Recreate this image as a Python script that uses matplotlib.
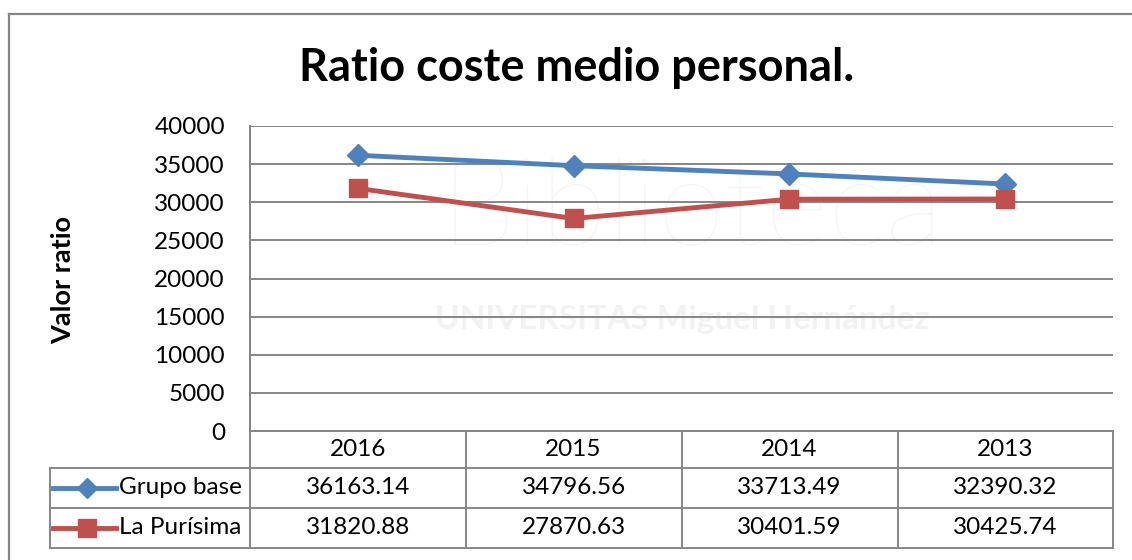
import matplotlib.pyplot as plt
from matplotlib.lines import Line2D
import matplotlib.transforms as mtransforms

plt.rcParams['font.family'] = ['Lato', 'DejaVu Sans']

years = ['2016', '2015', '2014', '2013']
grupo_base = [36163.14, 34796.56, 33713.49, 32390.32]
la_purisima = [31820.88, 27870.63, 30401.59, 30425.74]
series_names = ['Grupo base', 'La Purísima']
yticks = [0, 5000, 10000, 15000, 20000, 25000, 30000, 35000, 40000]

W, H = 1132, 560
blue = '#4F81BD'
red = '#C0504D'
grey = '#868686'


def fx(px):
    return px / W


def fy(py):
    return 1 - py / H


fig = plt.figure(figsize=(W / 100, H / 100), dpi=100)

# outer chart border (only top and left are visible in the crop)
fig.add_artist(Line2D([fx(9), fx(W)], [fy(14), fy(14)], color=grey, lw=1.6))
fig.add_artist(Line2D([fx(9), fx(9)], [fy(14), 0], color=grey, lw=1.6))

# faint watermark, behind the axes
fig.text(fx(692), fy(212), 'Biblioteca', fontsize=88, color='#f4f4f4',
         ha='center', va='center', zorder=-5, fontweight='light')
fig.text(fx(682), fy(320), 'UNIVERSITAS Miguel Hernández', fontsize=24,
         color='#f2f2f2', ha='center', va='center', zorder=-5, fontweight='bold')

ax = fig.add_axes([fx(250), fy(431), (1113 - 250) / W, (431 - 126) / H])
ax.patch.set_alpha(0)
ax.set_zorder(1)
x = list(range(len(years)))
ax.plot(x, grupo_base, color=blue, lw=3.5, marker='D', ms=11, zorder=3)
ax.plot(x, la_purisima, color=red, lw=3.5, marker='s', ms=13, zorder=3)
ax.set_xlim(-0.5, len(years) - 0.5)
ax.set_ylim(0, 40000)
ax.set_yticks(yticks)
ax.set_yticklabels([str(v) for v in yticks])
ax.set_xticks([])
ax.tick_params(axis='y', length=0, labelsize=17.5, pad=18)
ax.yaxis.grid(True, color=grey, lw=1.4)
ax.set_axisbelow(True)
for s in ['top', 'right', 'bottom']:
    ax.spines[s].set_visible(False)
ax.spines['left'].set_color(grey)
ax.spines['left'].set_linewidth(1.4)

fig.text(fx(63), fy(280), 'Valor ratio', fontsize=19.5, fontweight='bold',
         rotation=90, ha='center', va='center')
fig.text(fx(577), fy(68), 'Ratio coste medio personal.', fontsize=32.5,
         fontweight='bold', ha='center', va='center')

# data table below the axis
trans = mtransforms.blended_transform_factory(ax.transData, fig.transFigure)
row_lines = [431, 468, 508, 548]
for i, py in enumerate(row_lines):
    x0 = 250 if i == 0 else 50
    fig.add_artist(Line2D([fx(x0), fx(1113)], [fy(py), fy(py)], color=grey, lw=1.4))
for px in [250, 466, 682, 898, 1113]:
    top = 126 if px == 250 else 431
    fig.add_artist(Line2D([fx(px), fx(px)], [fy(top), fy(548)], color=grey, lw=1.4))
fig.add_artist(Line2D([fx(50), fx(50)], [fy(468), fy(548)], color=grey, lw=1.4))

fs = 17.5
for i, yr in enumerate(years):
    fig.text(i, fy(450), yr, transform=trans, ha='center', va='center', fontsize=fs)
    fig.text(i, fy(488), f'{grupo_base[i]:.2f}', transform=trans,
             ha='center', va='center', fontsize=fs)
    fig.text(i, fy(528), f'{la_purisima[i]:.2f}', transform=trans,
             ha='center', va='center', fontsize=fs)

# legend keys inside the table
for py, name, col, mk, ms in [(488, series_names[0], blue, 'D', 10),
                              (528, series_names[1], red, 's', 13)]:
    fig.add_artist(Line2D([fx(53), fx(116)], [fy(py), fy(py)], color=col, lw=3.5))
    fig.add_artist(Line2D([fx(87)], [fy(py)], color=col, marker=mk, ms=ms, lw=0))
    fig.text(fx(119), fy(py), name, ha='left', va='center', fontsize=fs)

fig.savefig('out.png', dpi=100)
